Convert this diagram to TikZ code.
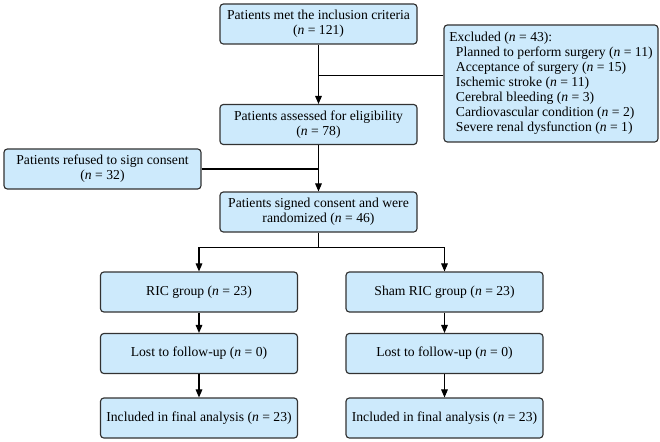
\documentclass[tikz,border=0pt]{standalone}
\usepackage{fontspec}
\setmainfont{Liberation Serif}
\usetikzlibrary{arrows.meta,calc}
\definecolor{boxblue}{RGB}{205,234,252}
\definecolor{boxline}{RGB}{50,50,50}
\newcommand{\nval}[1]{(\textit{n} = #1)}
\tikzset{
  box/.style={draw=boxline, fill=boxblue, rounded corners=2.5pt, line width=0.85pt, align=center,
    minimum width=147.75pt, minimum height=30pt, inner sep=2pt, font=\rmfamily\fontsize{10.25}{11.3}\selectfont},
  arr/.style={-{Triangle[length=6pt,width=5pt]}, line width=0.8pt}
}
\begin{document}
\begin{tikzpicture}[x=0.75pt,y=-0.75pt]
\useasboundingbox (0,0) rectangle (660,442);
\node[box] (met) at (318.5,24) {Patients met the inclusion criteria\\\nval{121}};
\node[box, minimum width=160.5pt, minimum height=87.75pt, align=left] (excl) at (551,83.5)
  {Excluded \nval{43}:\\
   \hspace*{5pt}Planned to perform surgery \nval{11}\\
   \hspace*{5pt}Acceptance of surgery \nval{15}\\
   \hspace*{5pt}Ischemic stroke \nval{11}\\
   \hspace*{5pt}Cerebral bleeding \nval{3}\\
   \hspace*{5pt}Cardiovascular condition \nval{2}\\
   \hspace*{5pt}Severe renal dysfunction \nval{1}};
\node[box] (elig) at (318.5,124.5) {Patients assessed for eligibility\\\nval{78}};
\node[box] (refused) at (102.5,169) {Patients refused to sign consent\\\nval{32}};
\node[box] (signed) at (318.5,212) {Patients signed consent and were\\randomized \nval{46}};

\node[box] (ric) at (199,292) {RIC group \nval{23}};
\node[box] (lost1) at (199,353.5) {Lost to follow-up \nval{0}};
\node[box] (incl1) at (199,418) {Included in final analysis \nval{23}};
\node[box] (sham) at (444.5,292) {Sham RIC group \nval{23}};
\node[box] (lost2) at (444.5,353.5) {Lost to follow-up \nval{0}};
\node[box] (incl2) at (444.5,418) {Included in final analysis \nval{23}};

\draw[arr] (met.south) -- (elig.north);
\coordinate (exj) at ($(met.south)!0.52!(elig.north)$);
\draw[line width=0.8pt] (excl.west |- exj) -- (exj);
\draw[arr] (elig.south) -- (signed.north);
\draw[line width=0.8pt] (refused.east) -- (refused.east -| elig.south);
\draw[line width=0.8pt] (signed.south) -- ++(0,15) coordinate (brj);
\draw[arr] (brj) -| (ric.north);
\draw[arr] (brj) -| (sham.north);
\draw[arr] (ric) -- (lost1);
\draw[arr] (lost1) -- (incl1);
\draw[arr] (sham) -- (lost2);
\draw[arr] (lost2) -- (incl2);
\end{tikzpicture}
\end{document}
